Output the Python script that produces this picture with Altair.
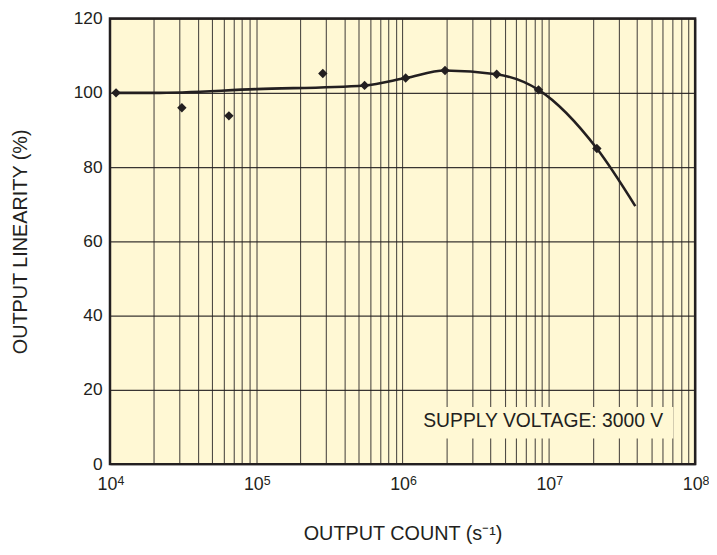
import altair as alt
import pandas as pd

# measured points
pt_x = [1.1e4, 3.1e4, 6.5e4, 2.85e5, 5.5e5, 1.05e6, 1.95e6, 4.4e6, 8.5e6, 2.13e7]
pt_y = [100, 96, 93.8, 105.2, 102, 104, 106, 105, 100.8, 85]

# smooth fitted curve
cv_x = [1.1e4, 2e4, 1e5, 5.5e5, 1.05e6, 1.95e6, 4.4e6, 8.5e6, 2.13e7, 3.9e7]
cv_y = [100, 100, 101, 102, 104, 106, 105, 100.8, 85, 69.5]

x_grid = [m * 10 ** e for e in range(4, 8) for m in range(1, 10)] + [1e8]
decades = [1e4, 1e5, 1e6, 1e7, 1e8]
exponents = ["4", "5", "6", "7", "8"]
y_ticks = [0, 20, 40, 60, 80, 100, 120]

note_text = "SUPPLY VOLTAGE: 3000 V"
note_box = {"x": 1.23e6, "x2": 7.1e7, "y": 6.9, "y2": 15.4, "tx": 9.15e6, "ty": 11.6}

INK = "#231f20"
BG = "#fff8d4"
FONT = "Liberation Sans"
W, H = 591, 450

pts = pd.DataFrame({"x": pt_x, "y": pt_y})
cv = pd.DataFrame({"x": cv_x, "y": cv_y})
box = pd.DataFrame([note_box])
exp_df = pd.DataFrame({"x": decades, "e": exponents})

label_expr = ("(datum.value == 10000 || datum.value == 100000 || datum.value == 1000000 || "
              "datum.value == 10000000 || datum.value == 100000000) ? '10' : ''")

xscale = alt.Scale(type="log", domain=[1e4, 1e8], nice=False)
yscale = alt.Scale(domain=[0, 120], nice=False)

xaxis = alt.Axis(values=x_grid, labelExpr=label_expr, title="OUTPUT COUNT (s⁻¹)",
                 ticks=False, domain=False, grid=True, gridColor=INK, gridOpacity=0.8,
                 gridWidth=1.1, labelFontSize=18, labelColor=INK, labelFont=FONT,
                 labelPadding=12, labelOffset=-3, labelFlush=False, labelOverlap=False,
                 titleFontSize=20, titleFont=FONT, titleColor=INK,
                 titleFontWeight="normal", titlePadding=30)
yaxis = alt.Axis(values=y_ticks, title="OUTPUT LINEARITY (%)", ticks=False, domain=False,
                 grid=True, gridColor=INK, gridOpacity=0.9, gridWidth=1.1,
                 labelFontSize=17.5, labelColor=INK, labelFont=FONT, labelPadding=8,
                 titleFontSize=20, titleFont=FONT, titleColor=INK,
                 titleFontWeight="normal", titlePadding=43)

line = alt.Chart(cv).mark_line(interpolate="monotone", color=INK, strokeWidth=2.6).encode(
    x=alt.X("x:Q", scale=xscale, axis=xaxis),
    y=alt.Y("y:Q", scale=yscale, axis=yaxis),
)
points = alt.Chart(pts).mark_point(shape="diamond", filled=True, size=90, color=INK, opacity=1).encode(
    x="x:Q", y="y:Q"
)
rect = alt.Chart(box).mark_rect(color=BG).encode(x="x:Q", x2="x2", y="y:Q", y2="y2")
text = alt.Chart(box).mark_text(text=note_text, font=FONT, fontSize=19.5, color=INK).encode(
    x="tx:Q", y="ty:Q"
)
sup = alt.Chart(exp_df).mark_text(font=FONT, fontSize=12.5, color=INK, baseline="alphabetic",
                                  dx=11).encode(
    x="x:Q", y=alt.value(H + 21), text="e:N"
)

chart = alt.layer(line, points, rect, text, sup).properties(
    width=W, height=H,
    autosize=alt.AutoSizeParams(type="none"),
    padding={"left": 103, "top": 8, "right": 14, "bottom": 81},
).configure_view(fill=BG, stroke=INK, strokeWidth=2.5)

chart.save("out.html", embed_options={"renderer": "svg", "actions": False})
